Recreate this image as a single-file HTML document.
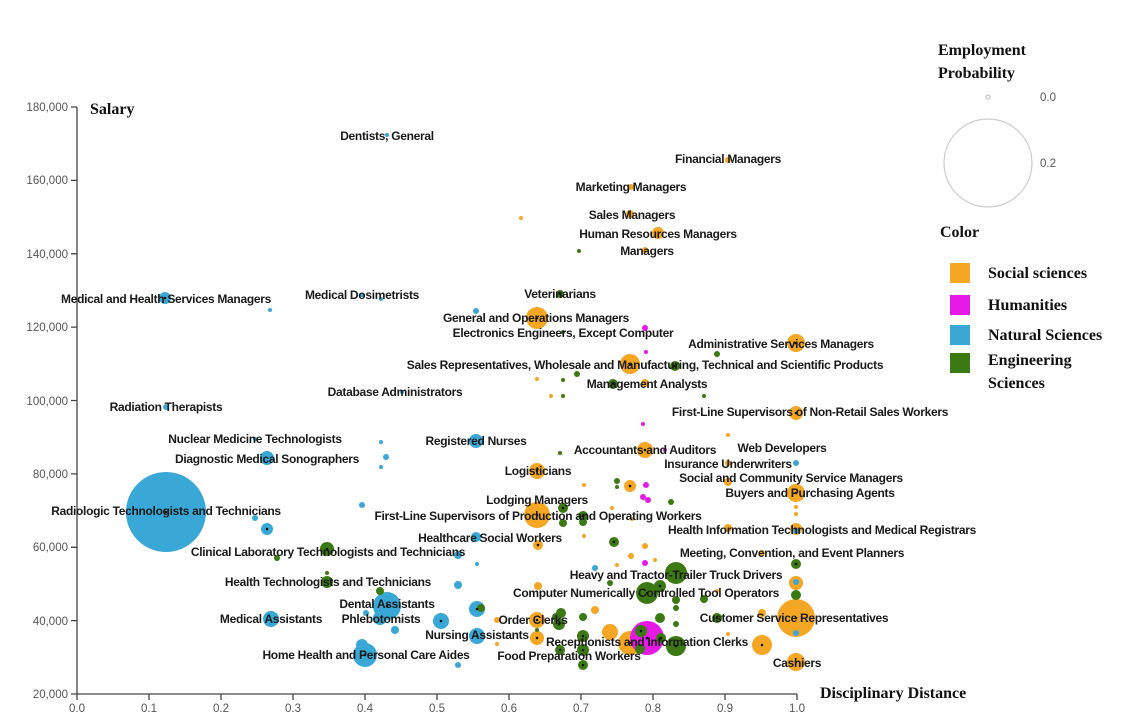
<!DOCTYPE html>
<html><head><meta charset="utf-8"><style>
body{margin:0;background:#fff}
svg text{font-family:"Liberation Sans",Arial,sans-serif}
.l{font-size:12px;fill:#1a1a1a;text-anchor:middle;font-weight:bold;letter-spacing:-0.3px}
.t{font-size:11.5px;fill:#555}
.s{font-family:"Liberation Serif",serif!important;font-weight:bold;font-size:16px;fill:#111}
</style></head><body>
<svg width="1126" height="714" xmlns="http://www.w3.org/2000/svg">
<g stroke="#444" stroke-width="1.3" fill="none">
<path d="M77,107V694H797"/>
<path d="M71,107H77M71,180.4H77M71,253.8H77M71,327.1H77M71,400.5H77M71,473.9H77M71,547.3H77M71,620.6H77M71,694H77"/>
<path d="M77,694v6M149,694v6M221,694v6M293,694v6M365,694v6M437,694v6M509,694v6M581,694v6M653,694v6M725,694v6M797,694v6"/>
</g>
<g class="t" text-anchor="end">
<text x="68" y="111">180,000</text><text x="68" y="184">160,000</text><text x="68" y="258">140,000</text><text x="68" y="331">120,000</text><text x="68" y="405">100,000</text><text x="68" y="478">80,000</text><text x="68" y="551">60,000</text><text x="68" y="625">40,000</text><text x="68" y="698">20,000</text>
</g>
<g class="t" text-anchor="middle">
<text x="77" y="712">0.0</text><text x="149" y="712">0.1</text><text x="221" y="712">0.2</text><text x="293" y="712">0.3</text><text x="365" y="712">0.4</text><text x="437" y="712">0.5</text><text x="509" y="712">0.6</text><text x="581" y="712">0.7</text><text x="653" y="712">0.8</text><text x="725" y="712">0.9</text><text x="797" y="712">1.0</text>
</g>
<text class="s" x="90" y="114">Salary</text>
<text class="s" x="820" y="698">Disciplinary Distance</text>
<g fill="#F5A623">
<circle cx="521" cy="218" r="2"/><circle cx="631" cy="187" r="3"/><circle cx="630" cy="214" r="4"/><circle cx="658" cy="233" r="6"/><circle cx="645" cy="250" r="3"/><circle cx="728" cy="160" r="3"/><circle cx="537" cy="318" r="11"/><circle cx="630" cy="364" r="10"/><circle cx="645" cy="383" r="4"/><circle cx="796" cy="343" r="9"/><circle cx="796" cy="413" r="7"/><circle cx="537" cy="379" r="2"/><circle cx="551" cy="396" r="2"/><circle cx="728" cy="435" r="2"/>
<circle cx="645" cy="450" r="8"/><circle cx="537" cy="471" r="8"/><circle cx="630" cy="486" r="6"/><circle cx="537" cy="515" r="13"/><circle cx="584" cy="485" r="2"/><circle cx="538" cy="545" r="5"/><circle cx="584" cy="536" r="2"/><circle cx="728" cy="463" r="3"/><circle cx="728" cy="482" r="4"/><circle cx="796" cy="493" r="9"/><circle cx="796" cy="507" r="2"/><circle cx="796" cy="514" r="2"/><circle cx="796" cy="529" r="6"/><circle cx="728" cy="528" r="4"/><circle cx="762" cy="553" r="3"/><circle cx="796" cy="583" r="7"/><circle cx="796" cy="618" r="19"/><circle cx="762" cy="613" r="4"/><circle cx="762" cy="645" r="10"/><circle cx="796" cy="662" r="9"/><circle cx="538" cy="586" r="4"/><circle cx="537" cy="620" r="8"/><circle cx="537" cy="638" r="7"/><circle cx="497" cy="620" r="3"/><circle cx="497" cy="644" r="2"/><circle cx="630" cy="643" r="12"/><circle cx="610" cy="632" r="8"/><circle cx="632" cy="519" r="2"/><circle cx="612" cy="508" r="2"/><circle cx="617" cy="565" r="2"/><circle cx="631" cy="556" r="3"/><circle cx="655" cy="560" r="2"/><circle cx="717" cy="591" r="2"/><circle cx="728" cy="634" r="2"/><circle cx="645" cy="546" r="3"/><circle cx="649" cy="635" r="3"/><circle cx="595" cy="610" r="4"/>
</g>
<g fill="#E619E6">
<circle cx="645" cy="328" r="3"/><circle cx="646" cy="352" r="2"/><circle cx="643" cy="424" r="2"/><circle cx="665" cy="450" r="2"/><circle cx="646" cy="485" r="3"/><circle cx="643" cy="497" r="3"/><circle cx="648" cy="500" r="3"/><circle cx="645" cy="563" r="3"/><circle cx="647" cy="638" r="17"/><circle cx="643" cy="593" r="3"/>
</g>
<g fill="#3AA8D6">
<circle cx="165" cy="298" r="6"/><circle cx="270" cy="310" r="2"/><circle cx="387" cy="135" r="2"/><circle cx="362" cy="295" r="2"/><circle cx="381" cy="299" r="2"/><circle cx="166" cy="407" r="3"/><circle cx="255" cy="439" r="2"/><circle cx="267" cy="458" r="7"/><circle cx="166" cy="512" r="40"/><circle cx="255" cy="518" r="3"/><circle cx="267" cy="529" r="6"/><circle cx="381" cy="442" r="2"/><circle cx="386" cy="457" r="3"/><circle cx="381" cy="467" r="2"/><circle cx="362" cy="505" r="3"/>
<circle cx="476" cy="441" r="7"/><circle cx="476" cy="537" r="5"/><circle cx="458" cy="555" r="4"/><circle cx="477" cy="564" r="2"/><circle cx="271" cy="619" r="8"/><circle cx="387" cy="606" r="14"/><circle cx="380" cy="618" r="7"/><circle cx="395" cy="630" r="4"/><circle cx="366" cy="613" r="3"/><circle cx="365" cy="655" r="12"/><circle cx="362" cy="645" r="6"/><circle cx="458" cy="665" r="3"/><circle cx="441" cy="621" r="8"/><circle cx="458" cy="585" r="4"/><circle cx="477" cy="609" r="8"/><circle cx="477" cy="636" r="8"/><circle cx="595" cy="568" r="3"/><circle cx="796" cy="463" r="3"/><circle cx="796" cy="531" r="3"/><circle cx="796" cy="563" r="3"/><circle cx="796" cy="582" r="3"/><circle cx="796" cy="633" r="3"/><circle cx="476" cy="311" r="3"/><circle cx="402" cy="392" r="2"/>
</g>
<g fill="#3B7A12">
<circle cx="579" cy="251" r="2"/><circle cx="560" cy="294" r="4"/><circle cx="563" cy="332" r="2"/><circle cx="577" cy="374" r="3"/><circle cx="563" cy="380" r="2"/><circle cx="613" cy="384" r="5"/><circle cx="675" cy="366" r="5"/><circle cx="717" cy="354" r="3"/><circle cx="704" cy="396" r="2"/><circle cx="563" cy="396" r="2"/><circle cx="560" cy="453" r="2"/><circle cx="617" cy="481" r="3"/><circle cx="617" cy="487" r="2"/><circle cx="671" cy="502" r="3"/><circle cx="563" cy="508" r="5"/><circle cx="563" cy="523" r="4"/><circle cx="583" cy="516" r="5"/><circle cx="583" cy="522" r="4"/><circle cx="614" cy="542" r="5"/><circle cx="676" cy="573" r="11"/><circle cx="610" cy="583" r="3"/><circle cx="660" cy="586" r="6"/><circle cx="647" cy="593" r="11"/><circle cx="676" cy="600" r="4"/><circle cx="676" cy="608" r="3"/><circle cx="676" cy="624" r="3"/><circle cx="660" cy="618" r="5"/><circle cx="704" cy="599" r="4"/><circle cx="717" cy="618" r="5"/><circle cx="796" cy="564" r="5"/><circle cx="796" cy="595" r="5"/><circle cx="676" cy="646" r="10"/><circle cx="661" cy="638" r="5"/><circle cx="641" cy="631" r="6"/><circle cx="583" cy="636" r="6"/><circle cx="583" cy="650" r="6"/><circle cx="583" cy="665" r="5"/><circle cx="560" cy="650" r="5"/><circle cx="559" cy="624" r="6"/><circle cx="561" cy="613" r="5"/><circle cx="556" cy="617" r="4"/><circle cx="583" cy="617" r="4"/><circle cx="327" cy="549" r="7"/><circle cx="277" cy="558" r="3"/><circle cx="327" cy="573" r="2"/><circle cx="327" cy="582" r="6"/><circle cx="380" cy="591" r="4"/><circle cx="481" cy="608" r="4"/><circle cx="537" cy="630" r="2"/><circle cx="640" cy="649" r="5"/><circle cx="583" cy="637" r="2"/>
</g>
<g fill="#111">
<circle cx="165" cy="298" r="1.3"/><circle cx="537" cy="318" r="1.3"/><circle cx="630" cy="364" r="1.3"/><circle cx="796" cy="343" r="1.3"/><circle cx="796" cy="413" r="1.3"/><circle cx="645" cy="450" r="1.3"/><circle cx="537" cy="471" r="1.3"/><circle cx="537" cy="515" r="1.3"/><circle cx="796" cy="493" r="1.3"/><circle cx="796" cy="618" r="1.3"/><circle cx="762" cy="645" r="1.3"/><circle cx="796" cy="662" r="1.3"/><circle cx="647" cy="638" r="1.3"/><circle cx="676" cy="573" r="1.3"/><circle cx="676" cy="646" r="1.3"/><circle cx="647" cy="593" r="1.3"/><circle cx="267" cy="529" r="1.3"/><circle cx="387" cy="606" r="1.3"/><circle cx="441" cy="621" r="1.3"/><circle cx="477" cy="609" r="1.3"/><circle cx="477" cy="636" r="1.3"/><circle cx="365" cy="655" r="1.3"/><circle cx="630" cy="643" r="1.3"/><circle cx="583" cy="636" r="1.3"/><circle cx="583" cy="650" r="1.3"/><circle cx="583" cy="665" r="1.3"/><circle cx="560" cy="650" r="1.3"/><circle cx="327" cy="549" r="1.3"/><circle cx="563" cy="508" r="1.3"/><circle cx="583" cy="516" r="1.3"/><circle cx="614" cy="542" r="1.3"/><circle cx="660" cy="586" r="1.3"/><circle cx="717" cy="618" r="1.3"/><circle cx="796" cy="564" r="1.3"/><circle cx="796" cy="529" r="1.3"/><circle cx="537" cy="620" r="1.3"/><circle cx="537" cy="638" r="1.3"/><circle cx="630" cy="486" r="1.3"/><circle cx="538" cy="545" r="1.3"/><circle cx="613" cy="384" r="1.3"/><circle cx="675" cy="366" r="1.3"/><circle cx="560" cy="294" r="1.3"/><circle cx="641" cy="631" r="1.3"/><circle cx="661" cy="638" r="1.3"/><circle cx="559" cy="624" r="1.3"/><circle cx="166" cy="512" r="1.3"/>
</g>
<g class="l">
<text x="387" y="140">Dentists, General</text>
<text x="728" y="163">Financial Managers</text>
<text x="631" y="191">Marketing Managers</text>
<text x="632" y="219">Sales Managers</text>
<text x="658" y="238">Human Resources Managers</text>
<text x="647" y="255">Managers</text>
<text x="166" y="303">Medical and Health Services Managers</text>
<text x="362" y="299">Medical Dosimetrists</text>
<text x="560" y="298">Veterinarians</text>
<text x="536" y="322">General and Operations Managers</text>
<text x="563" y="337">Electronics Engineers, Except Computer</text>
<text x="781" y="348">Administrative Services Managers</text>
<text x="645" y="369">Sales Representatives, Wholesale and Manufacturing, Technical and Scientific Products</text>
<text x="647" y="388">Management Analysts</text>
<text x="395" y="396">Database Administrators</text>
<text x="166" y="411">Radiation Therapists</text>
<text x="810" y="416">First-Line Supervisors of Non-Retail Sales Workers</text>
<text x="255" y="443">Nuclear Medicine Technologists</text>
<text x="476" y="445">Registered Nurses</text>
<text x="645" y="454">Accountants and Auditors</text>
<text x="782" y="452">Web Developers</text>
<text x="267" y="463">Diagnostic Medical Sonographers</text>
<text x="538" y="475">Logisticians</text>
<text x="728" y="468">Insurance Underwriters</text>
<text x="791" y="482">Social and Community Service Managers</text>
<text x="810" y="497">Buyers and Purchasing Agents</text>
<text x="537" y="504">Lodging Managers</text>
<text x="166" y="515">Radiologic Technologists and Technicians</text>
<text x="538" y="520">First-Line Supervisors of Production and Operating Workers</text>
<text x="822" y="534">Health Information Technologists and Medical Registrars</text>
<text x="490" y="542">Healthcare Social Workers</text>
<text x="328" y="556">Clinical Laboratory Technologists and Technicians</text>
<text x="792" y="557">Meeting, Convention, and Event Planners</text>
<text x="676" y="579">Heavy and Tractor-Trailer Truck Drivers</text>
<text x="328" y="586">Health Technologists and Technicians</text>
<text x="646" y="597">Computer Numerically Controlled Tool Operators</text>
<text x="387" y="608">Dental Assistants</text>
<text x="271" y="623">Medical Assistants</text>
<text x="381" y="623">Phlebotomists</text>
<text x="533" y="624">Order Clerks</text>
<text x="794" y="622">Customer Service Representatives</text>
<text x="477" y="639">Nursing Assistants</text>
<text x="647" y="646">Receptionists and Information Clerks</text>
<text x="366" y="659">Home Health and Personal Care Aides</text>
<text x="569" y="660">Food Preparation Workers</text>
<text x="797" y="667">Cashiers</text>
</g>
<text class="s" x="938" y="55">Employment</text>
<text class="s" x="938" y="78">Probability</text>
<circle cx="988" cy="97" r="2" fill="none" stroke="#bbb"/>
<circle cx="988" cy="163" r="44" fill="none" stroke="#ccc" stroke-width="1.2"/>
<text class="t" x="1040" y="101">0.0</text>
<text class="t" x="1040" y="167">0.2</text>
<text class="s" x="940" y="237">Color</text>
<rect x="950" y="263" width="20" height="20" fill="#F5A623"/>
<rect x="950" y="295" width="20" height="20" fill="#E619E6"/>
<rect x="950" y="325" width="20" height="20" fill="#3AA8D6"/>
<rect x="950" y="353" width="20" height="20" fill="#3B7A12"/>
<text class="s" x="988" y="278">Social sciences</text>
<text class="s" x="988" y="310">Humanities</text>
<text class="s" x="988" y="340">Natural Sciences</text>
<text class="s" x="988" y="365">Engineering</text>
<text class="s" x="988" y="388">Sciences</text>
</svg>
</body></html>
